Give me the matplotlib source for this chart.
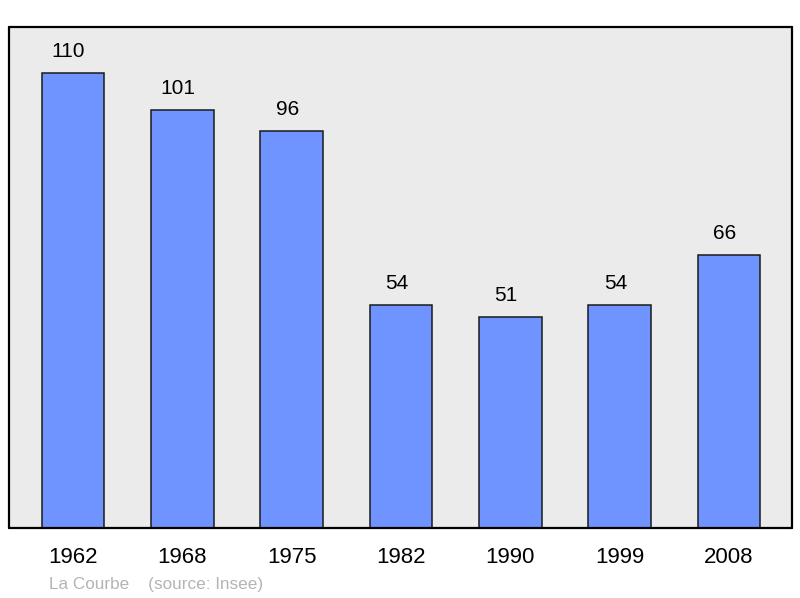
import numpy as np
import matplotlib
matplotlib.use('Agg')
import matplotlib.pyplot as plt

# population data
years = ['1962', '1968', '1975', '1982', '1990', '1999', '2008']
population = [110, 101, 96, 54, 51, 54, 66]
footer = 'La Courbe    (source: Insee)'

fig = plt.figure(figsize=(8, 5.98), dpi=100)
ax = fig.add_axes([9/800, 70/598, 783/800, 501/598])
ax.set_facecolor('#ebebeb')

x = np.arange(len(years))
bars = ax.bar(x, population, width=0.573, color='#7094ff', edgecolor='#1a1a1a', linewidth=1.1)

# value labels, sit a bit left of the bar centre like the original
for xi, v in zip(x, population):
	ax.annotate(str(v), (xi, v), xytext=(-3.2, 15.3), textcoords='offset points',
		ha='center', va='center', fontsize=15, family='Liberation Sans')

ax.set_xlim(-0.585, 6.575)
ax.set_ylim(0, 121.1)
ax.set_xticks(x)
ax.set_xticklabels(years, fontsize=16, family='Liberation Sans')
ax.tick_params(axis='x', length=0, pad=14)
ax.set_yticks([])

for s in ax.spines.values():
	s.set_linewidth(1.6)
	s.set_capstyle('round')
	s.set_joinstyle('round')

fig.text(49/800, 1 - 584/598, footer, fontsize=12.3, color='#b4b4b4',
	family='Liberation Sans', va='center', ha='left')

fig.savefig('out.png', dpi=100)
